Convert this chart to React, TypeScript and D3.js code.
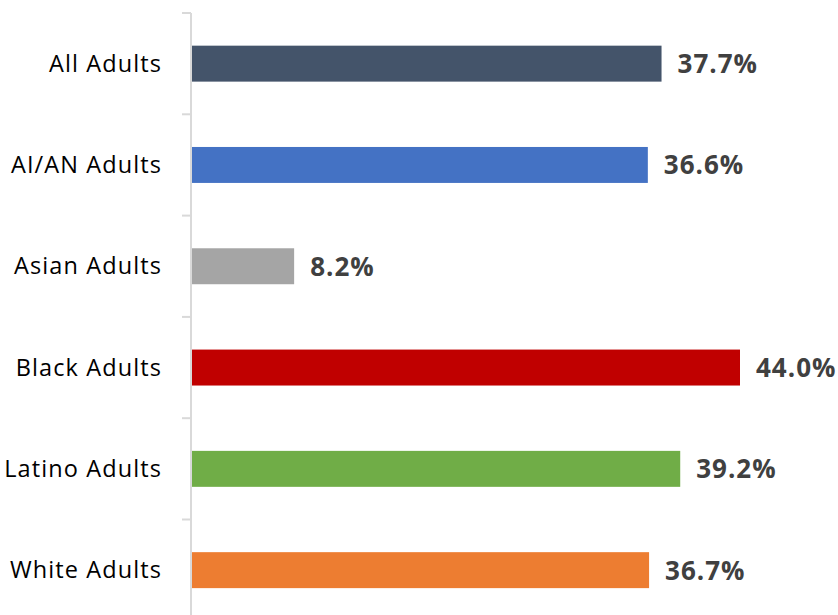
import React from 'react';
import * as d3 from 'd3';

const categories = ['All Adults', 'AI/AN Adults', 'Asian Adults', 'Black Adults', 'Latino Adults', 'White Adults'];
const values = [37.7, 36.6, 8.2, 44.0, 39.2, 36.7];
const colors = ['#44546a', '#4472c4', '#a5a5a5', '#c00000', '#70ad47', '#ed7d31'];

const width = 838;
const height = 615;
const axis_x = 191;
const band_top = 13;
const band_step = 101.3;

export default function App() {
    const y = d3
        .scaleBand<string>()
        .domain(categories)
        .range([band_top, band_top + band_step * categories.length])
        .paddingInner(0.645)
        .paddingOuter(0.3225);

    const x = d3.scaleLinear([0, 44], [axis_x + 1, 740]);

    // tick marks sit on the band boundaries
    const tick_ys = categories.map((_, i) => band_top + i * band_step);

    return (
        <svg
            width={width}
            height={height}
            style={{ position: 'absolute', left: 0, top: 0, background: '#fff' }}
        >
            <line x1={axis_x} x2={axis_x} y1={band_top} y2={height} stroke="#d9d9d9" strokeWidth={2} />
            {tick_ys.map((ty, i) => (
                <line key={i} x1={axis_x - 9} x2={axis_x} y1={ty} y2={ty} stroke="#d9d9d9" strokeWidth={2} />
            ))}
            {categories.map((c, i) => {
                const by = y(c) as number;
                const cy = by + y.bandwidth() / 2;
                return (
                    <g key={c}>
                        <rect x={x(0)} y={by} width={x(values[i]) - x(0)} height={y.bandwidth()} fill={colors[i]} />
                        <text
                            x={162}
                            y={cy}
                            dy="0.35em"
                            textAnchor="end"
                            fontFamily="'Open Sans', sans-serif"
                            fontSize={23.5}
                            letterSpacing={1.1}
                            fill="#000"
                        >
                            {c}
                        </text>
                        <text
                            x={x(values[i]) + 16}
                            y={cy}
                            dy="0.36em"
                            fontFamily="'Open Sans', sans-serif"
                            fontWeight="bold"
                            fontSize={26}
                            letterSpacing={1}
                            fill="#404040"
                        >
                            {values[i].toFixed(1) + '%'}
                        </text>
                    </g>
                );
            })}
        </svg>
    );
}
